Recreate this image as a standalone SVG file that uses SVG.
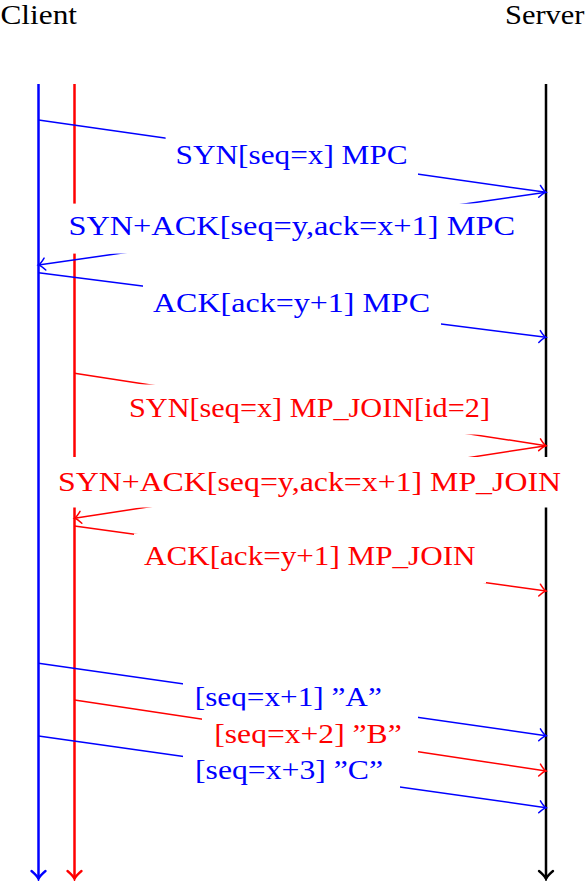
<svg xmlns="http://www.w3.org/2000/svg" width="586" height="881" viewBox="0 0 586 881">
<defs>
<style>
.ttl{fill:#000;}
.tb{fill:#0000ff;text-anchor:middle;}
.tr{fill:#ff0000;text-anchor:middle;}
.box{fill:#fff;stroke:none;}
.life{fill:none;stroke-width:2.5;}
.msg{fill:none;stroke-width:1.5;}
.b{stroke:#0000ff;}
.r{stroke:#ff0000;}
.k{stroke:#000;}
</style>
<marker id="lb" markerUnits="userSpaceOnUse" orient="auto" refX="0" refY="0" markerWidth="20" markerHeight="20" overflow="visible"><path d="M-8,-7 Q-3,-1 0,0 Q-3,1 -8,7" fill="none" stroke="#0000ff" stroke-width="2.3" stroke-linecap="round"/></marker>
<marker id="lr" markerUnits="userSpaceOnUse" orient="auto" refX="0" refY="0" markerWidth="20" markerHeight="20" overflow="visible"><path d="M-8,-7 Q-3,-1 0,0 Q-3,1 -8,7" fill="none" stroke="#ff0000" stroke-width="2.3" stroke-linecap="round"/></marker>
<marker id="lk" markerUnits="userSpaceOnUse" orient="auto" refX="0" refY="0" markerWidth="20" markerHeight="20" overflow="visible"><path d="M-8,-7 Q-3,-1 0,0 Q-3,1 -8,7" fill="none" stroke="#000" stroke-width="2.3" stroke-linecap="round"/></marker>
<marker id="mb" markerUnits="userSpaceOnUse" orient="auto" refX="0" refY="0" markerWidth="20" markerHeight="20" overflow="visible"><path d="M-6.5,-6 Q-2.5,-1 0,0 Q-2.5,1 -6.5,6" fill="none" stroke="#0000ff" stroke-width="1.5" stroke-linecap="round"/></marker>
<marker id="mr" markerUnits="userSpaceOnUse" orient="auto" refX="0" refY="0" markerWidth="20" markerHeight="20" overflow="visible"><path d="M-6.5,-6 Q-2.5,-1 0,0 Q-2.5,1 -6.5,6" fill="none" stroke="#ff0000" stroke-width="1.5" stroke-linecap="round"/></marker>
</defs>
<rect x="0" y="0" width="586" height="881" fill="#fff"/>

<g id="client">
<text class="ttl" font-family="Liberation Serif, serif" font-size="27" x="0.5" y="23.5" textLength="76.5" lengthAdjust="spacingAndGlyphs">Client</text>
<line class="life b" x1="38.5" y1="84" x2="38.5" y2="879" marker-end="url(#lb)"/>
<line class="life r" x1="74.5" y1="84" x2="74.5" y2="879" marker-end="url(#lr)"/>
</g>
<g id="server">
<text class="ttl" font-family="Liberation Serif, serif" font-size="27" x="505" y="23.5" textLength="79.5" lengthAdjust="spacingAndGlyphs">Server</text>
<line class="life k" x1="546" y1="84" x2="546" y2="879" marker-end="url(#lk)"/>
</g>

<g id="connectors">
<g id="m1">
<line class="msg b" x1="38.5" y1="120" x2="546" y2="192.3" marker-end="url(#mb)"/>
<rect class="box" x="165.6" y="131.2" width="252.4" height="50"/>
<text class="tb" font-family="Liberation Serif, serif" font-size="28" x="291.6" y="164" textLength="232" lengthAdjust="spacingAndGlyphs">SYN[seq=x] MPC</text>
</g>
<g id="m2">
<line class="msg b" x1="546" y1="192.3" x2="38.5" y2="265" marker-end="url(#mb)"/>
<rect class="box" x="58" y="203.6" width="467.5" height="50"/>
<text class="tb" font-family="Liberation Serif, serif" font-size="28" x="291.7" y="235" textLength="446.6" lengthAdjust="spacingAndGlyphs">SYN+ACK[seq=y,ack=x+1] MPC</text>
</g>
<g id="m3">
<line class="msg b" x1="38.5" y1="272.7" x2="546" y2="337.3" marker-end="url(#mb)"/>
<rect class="box" x="143" y="280" width="298" height="50"/>
<text class="tb" font-family="Liberation Serif, serif" font-size="28" x="291.5" y="311.7" textLength="277" lengthAdjust="spacingAndGlyphs">ACK[ack=y+1] MPC</text>
</g>
<g id="m4">
<line class="msg r" x1="74.5" y1="373.3" x2="546" y2="445.7" marker-end="url(#mr)"/>
<rect class="box" x="119" y="384.5" width="381" height="50"/>
<text class="tr" font-family="Liberation Serif, serif" font-size="28" x="309.5" y="416.7" textLength="361" lengthAdjust="spacingAndGlyphs">SYN[seq=x] MP_JOIN[id=2]</text>
</g>
<g id="m5">
<line class="msg r" x1="546" y1="445.7" x2="74.5" y2="518.3" marker-end="url(#mr)"/>
<rect class="box" x="48" y="457" width="523" height="50.5"/>
<text class="tr" font-family="Liberation Serif, serif" font-size="28" x="309.5" y="490.7" textLength="503" lengthAdjust="spacingAndGlyphs">SYN+ACK[seq=y,ack=x+1] MP_JOIN</text>
</g>
<g id="m6">
<line class="msg r" x1="74.5" y1="526" x2="546" y2="591" marker-end="url(#mr)"/>
<rect class="box" x="134" y="533.5" width="352" height="50"/>
<text class="tr" font-family="Liberation Serif, serif" font-size="28" x="309.75" y="565" textLength="331.5" lengthAdjust="spacingAndGlyphs">ACK[ack=y+1] MP_JOIN</text>
</g>
<g id="m7">
<line class="msg b" x1="38.5" y1="663.3" x2="546" y2="735.7" marker-end="url(#mb)"/>
<rect class="box" x="183" y="674.5" width="218" height="50"/>
<text class="tb" font-family="Liberation Serif, serif" font-size="28" x="288.3" y="706" textLength="187" lengthAdjust="spacingAndGlyphs">[seq=x+1] ”A”</text>
</g>
<g id="m8">
<line class="msg r" x1="74.5" y1="700" x2="546" y2="771" marker-end="url(#mr)"/>
<rect class="box" x="202" y="710.5" width="216" height="50"/>
<text class="tr" font-family="Liberation Serif, serif" font-size="28" x="308" y="742.7" textLength="187.4" lengthAdjust="spacingAndGlyphs">[seq=x+2] ”B”</text>
</g>
<g id="m9">
<line class="msg b" x1="38.5" y1="736" x2="546" y2="807.7" marker-end="url(#mb)"/>
<rect class="box" x="183" y="746.9" width="217" height="50"/>
<text class="tb" font-family="Liberation Serif, serif" font-size="28" x="289" y="779" textLength="188" lengthAdjust="spacingAndGlyphs">[seq=x+3] ”C”</text>
</g>
</g>
</svg>
